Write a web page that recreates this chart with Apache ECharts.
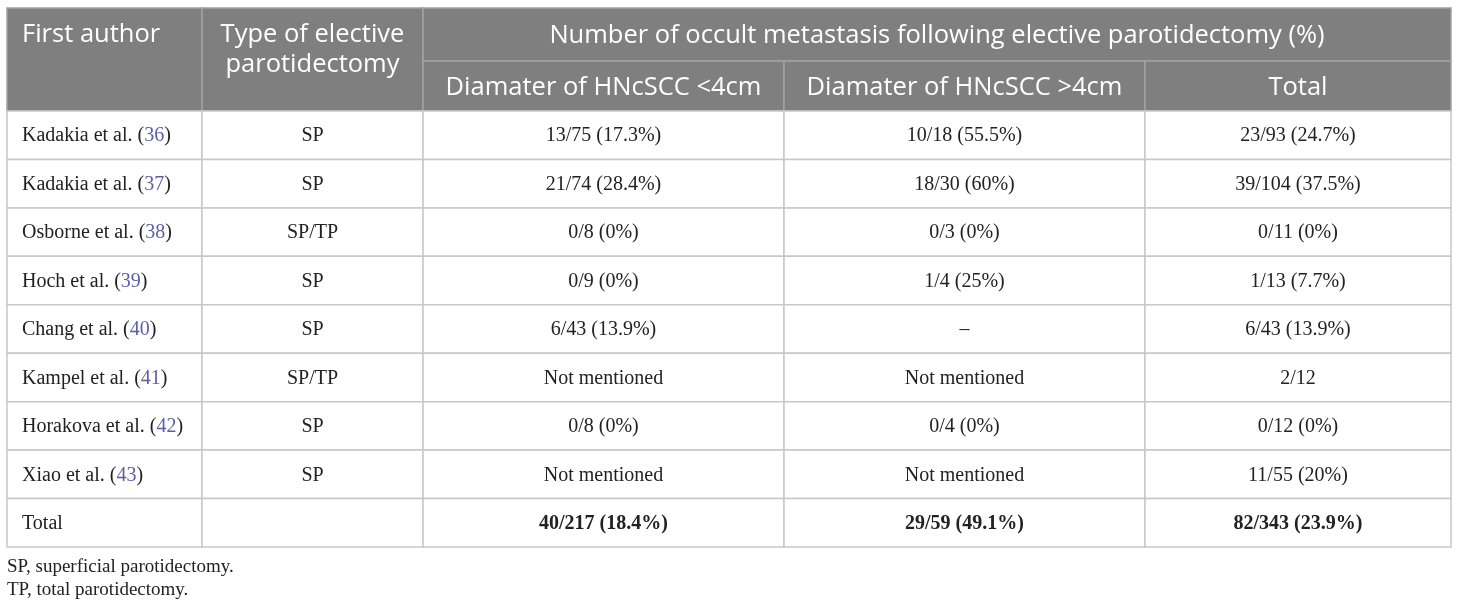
<!DOCTYPE html>
<html><head><meta charset="utf-8">
<script src="https://cdn.jsdelivr.net/npm/echarts@6/dist/echarts.min.js"></script>
<style>html,body{margin:0;padding:0;background:#fff}#c{width:1460px;height:608px}</style>
</head><body><div id="c"></div>
<script>
// ---- data ----
const authors = ['Kadakia et al.','Kadakia et al.','Osborne et al.','Hoch et al.','Chang et al.','Kampel et al.','Horakova et al.','Xiao et al.','Total'];
const refs = ['36','37','38','39','40','41','42','43',''];
const types = ['SP','SP','SP/TP','SP','SP','SP/TP','SP','SP',''];
const under4 = ['13/75 (17.3%)','21/74 (28.4%)','0/8 (0%)','0/9 (0%)','6/43 (13.9%)','Not mentioned','0/8 (0%)','Not mentioned','40/217 (18.4%)'];
const over4 = ['10/18 (55.5%)','18/30 (60%)','0/3 (0%)','1/4 (25%)','\u2013','Not mentioned','0/4 (0%)','Not mentioned','29/59 (49.1%)'];
const totals = ['23/93 (24.7%)','39/104 (37.5%)','0/11 (0%)','1/13 (7.7%)','6/43 (13.9%)','2/12','0/12 (0%)','11/55 (20%)','82/343 (23.9%)'];
const headerTop = ['First author','Type of elective\nparotidectomy','Number of occult metastasis following elective parotidectomy (%)'];
const headerSub = ['Diamater of HNcSCC <4cm','Diamater of HNcSCC >4cm','Total'];
const footnotes = ['SP, superficial parotidectomy.','TP, total parotidectomy.'];

// ---- layout (table units) ----
const colEdges = [0,195,416,777,1138,1444];
const headEdges = [0,53,103];
const bodyRowH = 48.44;
const tableH = headEdges[2] + bodyRowH * authors.length;

const cells = [];
cells.push({x0:colEdges[0],x1:colEdges[1],y0:headEdges[0],y1:headEdges[2],text:headerTop[0],h:true,align:'left',va:'top'});
cells.push({x0:colEdges[1],x1:colEdges[2],y0:headEdges[0],y1:headEdges[2],text:headerTop[1],h:true,align:'center',va:'top'});
cells.push({x0:colEdges[2],x1:colEdges[5],y0:headEdges[0],y1:headEdges[1],text:headerTop[2],h:true,align:'center',va:'middle'});
headerSub.forEach((t,j)=>cells.push({x0:colEdges[2+j],x1:colEdges[3+j],y0:headEdges[1],y1:headEdges[2],text:t,h:true,align:'center',va:'middle'}));
authors.forEach((a,i)=>{
  const y0 = headEdges[2] + i*bodyRowH, y1 = y0 + bodyRowH;
  const last = i === authors.length-1;
  const first = refs[i] ? a + ' ({r|' + refs[i] + '})' : a;
  const cols = [first, types[i], under4[i], over4[i], totals[i]];
  cols.forEach((t,j)=>cells.push({x0:colEdges[j],x1:colEdges[j+1],y0,y1,text:t,h:false,
    align:j===0?'left':'center',va:'middle',bold:last&&j>=2}));
});

const chart = echarts.init(document.getElementById('c'), null, {renderer:'canvas'});
chart.setOption({
  animation:false,
  grid:{left:7,top:8,width:1444,height:tableH},
  xAxis:{type:'value',min:0,max:1444,show:false},
  yAxis:{type:'value',min:0,max:tableH,inverse:true,show:false},
  graphic: footnotes.map((t,i)=>({type:'text',left:7,top:558+i*23,
    style:{text:t,fontFamily:'Liberation Serif',fontSize:19,fill:'#222'}})),
  series:[{
    type:'custom',
    clip:false,
    data: cells.map(c=>[c.x0,c.y0,c.x1,c.y1]),
    renderItem:function(params, api){
      const c = cells[params.dataIndex];
      const p0 = api.coord([api.value(0),api.value(1)]);
      const p1 = api.coord([api.value(2),api.value(3)]);
      const x = Math.min(p0[0],p1[0]), y = Math.min(p0[1],p1[1]);
      const w = Math.abs(p1[0]-p0[0]), h = Math.abs(p1[1]-p0[1]);
      const tx = c.align==='left' ? x+15 : x+w/2;
      const ty = c.va==='top' ? y+12 : y+h/2+(c.h?1.5:1);
      return {type:'group',children:[
        {type:'rect',shape:{x:x,y:y,width:w,height:h},
          style:{fill:c.h?'#7f7f7f':'#ffffff',stroke:c.h?'#a2a2a2':'#c8c8c8',lineWidth:1.5}},
        {type:'text',z2:10,style:{text:c.text,x:tx,y:ty,align:c.align,verticalAlign:c.va,
          fontFamily:c.h?'Open Sans':'Liberation Serif',fontSize:c.h?25.5:20,
          fontWeight:c.bold?'bold':'normal',fill:c.h?'#ffffff':'#222222',lineHeight:c.h?30:22,
          rich:{r:{fill:'#5e5ea6',fontFamily:'Liberation Serif',fontSize:20}}}}
      ]};
    }
  }]
});
</script></body></html>
